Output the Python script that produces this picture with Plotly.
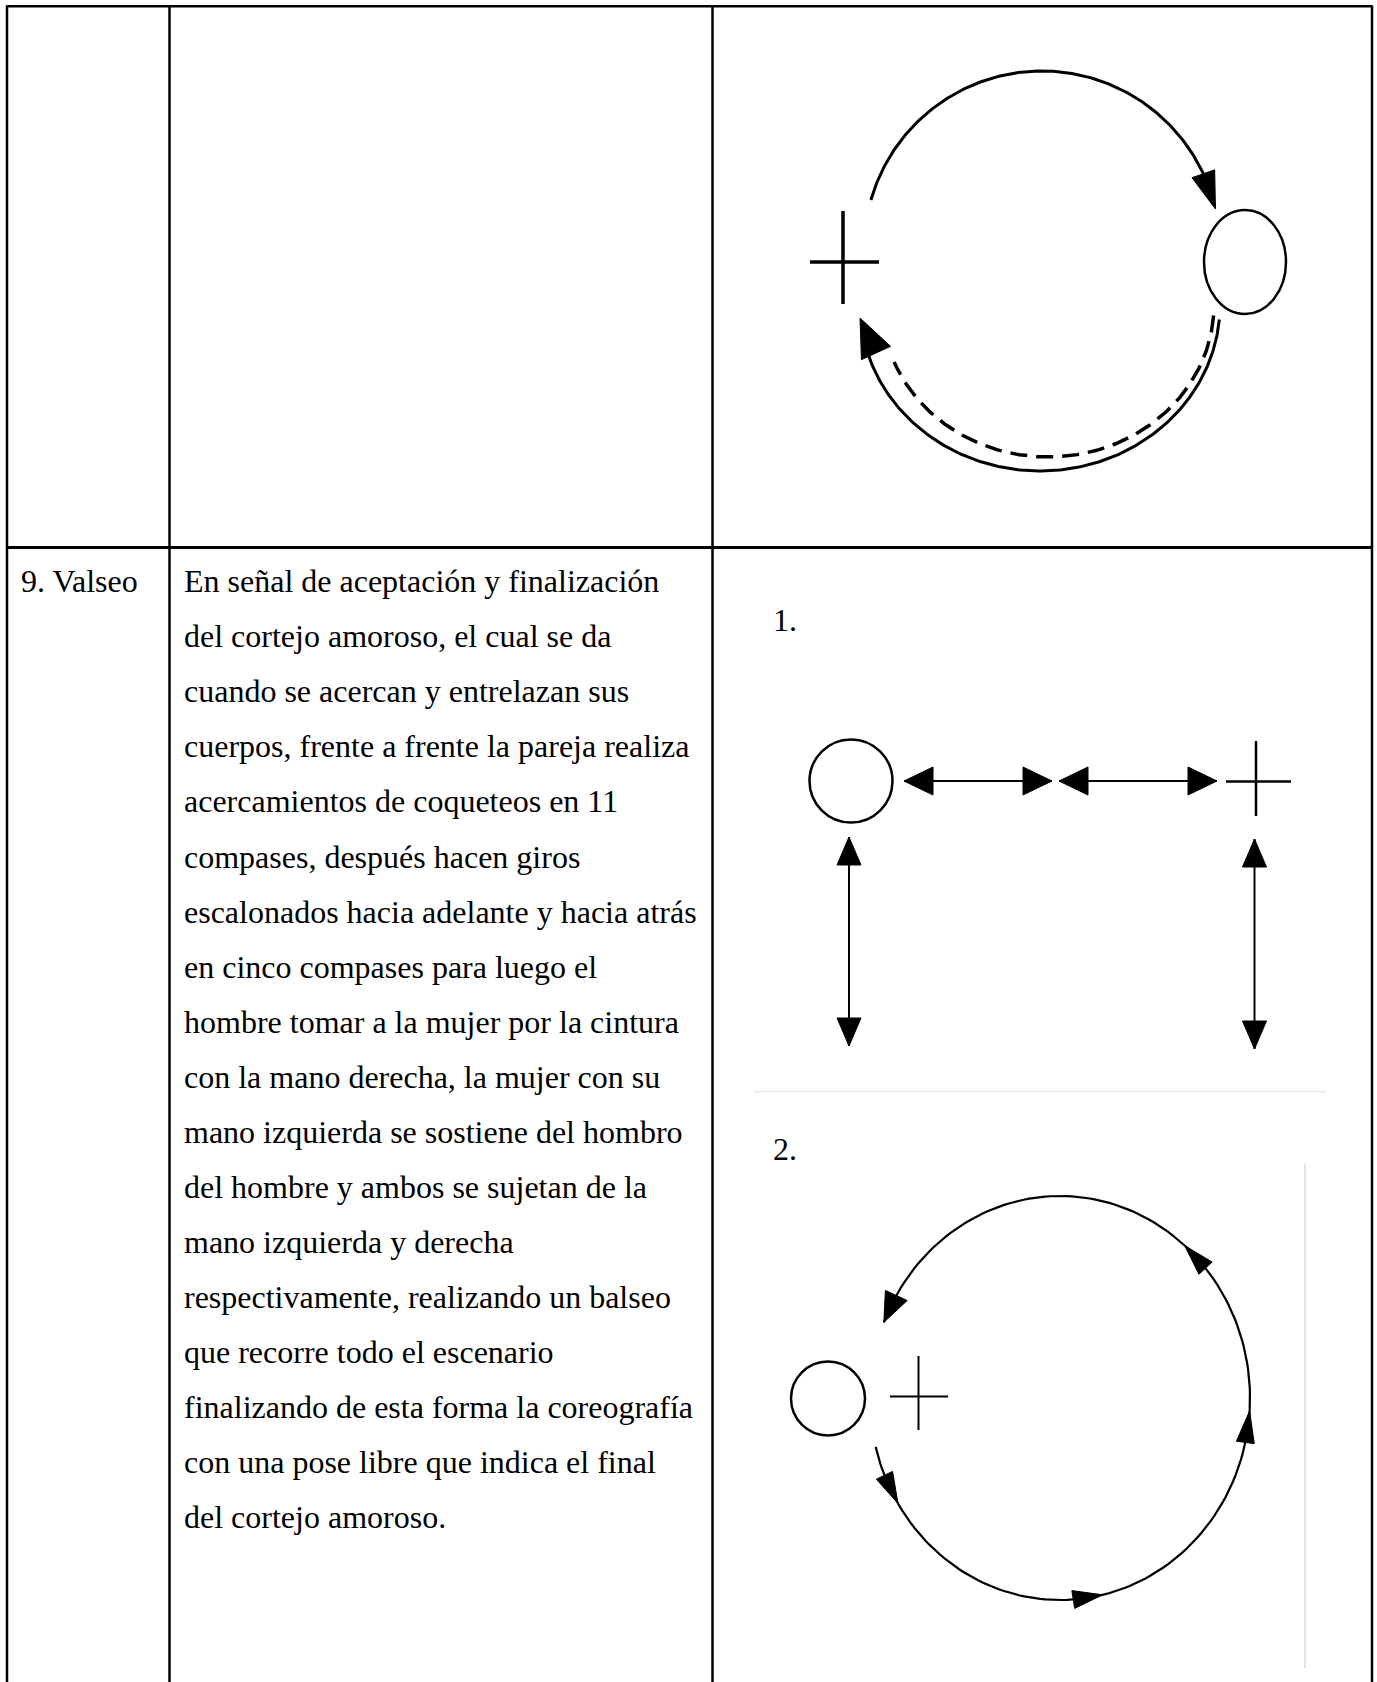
import numpy as np
import plotly.graph_objects as go

# page size (px) - the figure axes are mapped 1:1 onto the page
PAGE_W, PAGE_H = 1377, 1682

# table text
step_label = "9. Valseo"
description_lines = [
    "En señal de aceptación y finalización",
    "del cortejo amoroso, el cual se da",
    "cuando se acercan y entrelazan sus",
    "cuerpos, frente a frente la pareja realiza",
    "acercamientos de coqueteos en 11",
    "compases, después hacen giros",
    "escalonados hacia adelante y hacia atrás",
    "en cinco compases para luego el",
    "hombre tomar a la mujer por la cintura",
    "con la mano derecha, la mujer con su",
    "mano izquierda se sostiene del hombro",
    "del hombre y ambos se sujetan de la",
    "mano izquierda y derecha",
    "respectivamente, realizando un balseo",
    "que recorre todo el escenario",
    "finalizando de esta forma la coreografía",
    "con una pose libre que indica el final",
    "del cortejo amoroso.",
]
figure_labels = ["1.", "2."]

# table grid
col_x = [7, 169.5, 712.5, 1372]
row_y = [6.2, 547.5]
FONT = "Liberation Serif"
FS = 32
first_baseline = 592
line_step = 55.06

fig = go.Figure()
shapes = []
annotations = []


def line(x0, y0, x1, y1, w=2.5, color="black"):
    shapes.append(dict(type="line", x0=x0, y0=y0, x1=x1, y1=y1,
                       line=dict(color=color, width=w)))


def ellipse(cx, cy, rx, ry, w=2.5):
    shapes.append(dict(type="circle", x0=cx - rx, x1=cx + rx, y0=cy - ry, y1=cy + ry,
                       line=dict(color="black", width=w)))


def arc_pts(cx, cy, rx, ry, t0, t1, n=200):
    t = np.radians(np.linspace(t0, t1, n))
    return cx + rx * np.cos(t), cy - ry * np.sin(t)


def arc(cx, cy, rx, ry, t0, t1, w=2.5, dash="solid"):
    xs, ys = arc_pts(cx, cy, rx, ry, t0, t1)
    fig.add_trace(go.Scatter(x=xs, y=ys, mode="lines", hoverinfo="skip",
                             line=dict(color="black", width=w, dash=dash)))


def head(tip, base, half):
    tx, ty = tip
    bx, by = base
    dx, dy = tx - bx, ty - by
    L = np.hypot(dx, dy)
    nx, ny = -dy / L, dx / L
    xs = [tx, bx + nx * half, bx - nx * half, tx]
    ys = [ty, by + ny * half, by - ny * half, ty]
    fig.add_trace(go.Scatter(x=xs, y=ys, mode="lines", fill="toself", hoverinfo="skip",
                             fillcolor="black", line=dict(color="black", width=1)))


def arc_head(cx, cy, rx, ry, t_tip, back_deg, half):
    # back_deg > 0 when the arc is travelled with increasing angle
    tip = arc_pts(cx, cy, rx, ry, t_tip, t_tip, 1)
    base = arc_pts(cx, cy, rx, ry, t_tip - back_deg, t_tip - back_deg, 1)
    head((tip[0][0], tip[1][0]), (base[0][0], base[1][0]), half)


def double_arrow(x0, y0, x1, y1, length, half, w=2):
    line(x0, y0, x1, y1, w)
    dx, dy = x1 - x0, y1 - y0
    L = np.hypot(dx, dy)
    ux, uy = dx / L, dy / L
    head((x0, y0), (x0 + ux * length, y0 + uy * length), half)
    head((x1, y1), (x1 - ux * length, y1 - uy * length), half)


# ---- table borders
line(col_x[0], row_y[0], col_x[-1], row_y[0])
line(col_x[0], row_y[1], col_x[-1], row_y[1], w=3)
for cx in col_x:
    line(cx, row_y[0] - 1, cx, PAGE_H + 5)

# ---- top diagram (circle turn)
arc(1042, 249, 178, 178, 164, 14, w=3)
arc_head(1042, 249, 178, 178, 13, -12, 12)
arc(1040, 305, 180, 166, -5, -170, w=3)
arc(1048, 305, 166, 152, -4, -158, w=3.5, dash="17px,9px")
head((860, 318), (876, 353), 16)
line(843, 211, 843, 304, w=3.5)
line(810, 262, 879, 262, w=3.5)
ellipse(1245, 262, 41, 52, w=2.5)

# ---- diagram 1 (approach)
ellipse(851, 781, 41.5, 41.5)
double_arrow(904, 781, 1052, 781, 29, 14)
double_arrow(1059, 781, 1217, 781, 29, 14)
line(1256, 741, 1256, 816)
line(1226, 781.5, 1291, 781.5)
double_arrow(849, 837, 849, 1046, 28, 12)
double_arrow(1254.5, 839, 1254.5, 1049, 28, 12)

# separators inside the cell (faint)
line(754, 1091.5, 1326, 1091.5, w=1.5, color="#ececec")
line(1305, 1163.5, 1305, 1668, w=2, color="#e3e3e3")

# ---- diagram 2 (waltz round)
ellipse(828, 1398.5, 37, 37)
line(918.5, 1356, 918.5, 1430, w=2)
line(890, 1396.6, 948, 1396.6, w=2)
arc(1060, 1398, 190, 202, -166, 158, w=2.2)
for t_tip in [-148.5, -77, -3.7, 49]:
    arc_head(1060, 1398, 190, 202, t_tip, 9, 9)
arc_head(1060, 1398, 190, 202, 158, 8.5, 12)

# ---- text
def text(x, baseline, s):
    annotations.append(dict(x=x, y=baseline - 0.3375 * FS, text=s, showarrow=False,
                            xanchor="left", yanchor="middle", borderpad=0,
                            font=dict(family=FONT, size=FS, color="black")))


text(20, first_baseline, step_label)
for i, s in enumerate(description_lines):
    text(183, first_baseline + i * line_step, s)
text(772, 631, figure_labels[0])
text(772, 1160, figure_labels[1])

fig.update_layout(
    width=PAGE_W, height=PAGE_H, margin=dict(l=0, r=0, t=0, b=0),
    paper_bgcolor="white", plot_bgcolor="white", showlegend=False,
    xaxis=dict(range=[0, PAGE_W], visible=False, fixedrange=True),
    yaxis=dict(range=[PAGE_H, 0], visible=False, fixedrange=True),
    shapes=shapes, annotations=annotations,
)

fig.write_html("out.html", config={"displayModeBar": False},
               post_script="document.body.style.margin='0';")
